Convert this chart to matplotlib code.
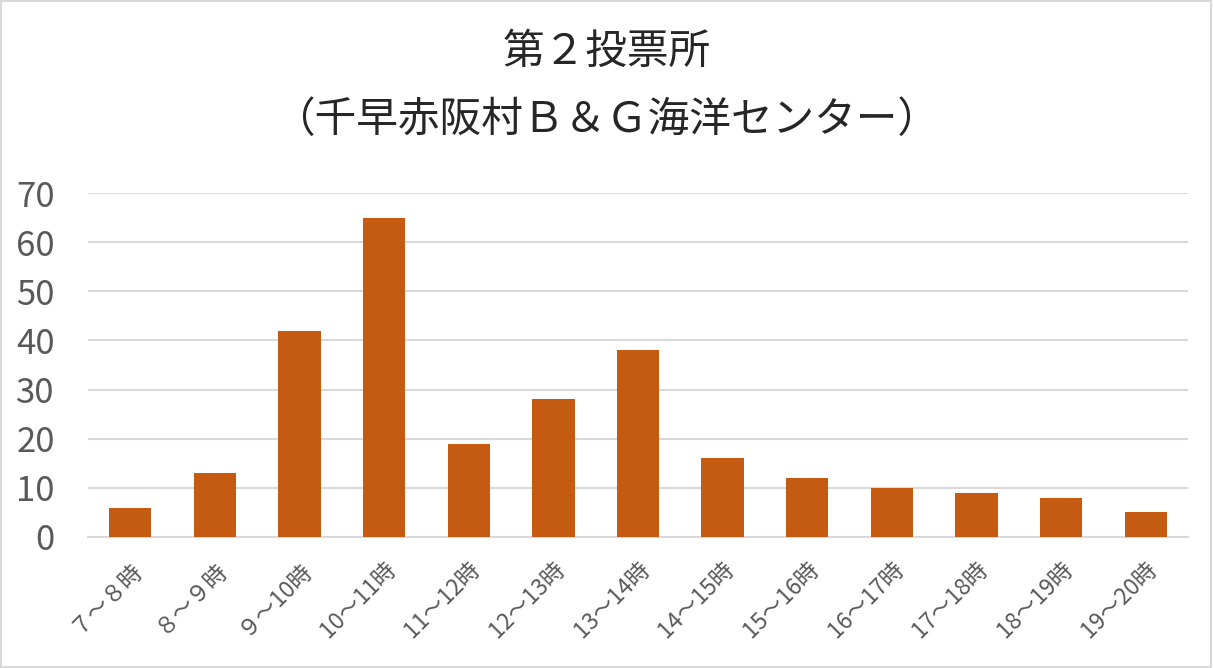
import matplotlib.pyplot as plt
from matplotlib.patches import Rectangle

plt.rcParams['font.family'] = ['Noto Sans CJK JP', 'DejaVu Sans']

# Hourly voter counts
hours = ['７～８時', '８～９時', '９～10時', '10～11時', '11～12時', '12～13時', '13～14時',
         '14～15時', '15～16時', '16～17時', '17～18時', '18～19時', '19～20時']
voters = [6, 13, 42, 65, 19, 28, 38, 16, 12, 10, 9, 8, 5]
yticks = [0, 10, 20, 30, 40, 50, 60, 70]

fig = plt.figure(figsize=(12.13, 6.68), dpi=100)
ax = fig.add_axes([88 / 1213, 1 - 537 / 668, 1100 / 1213, 344 / 668])

ax.bar(range(len(hours)), voters, width=0.5, color='#C55A11', zorder=3)
ax.set_xlim(-0.5, len(hours) - 0.5)
ax.set_ylim(0, 70)
ax.set_yticks(yticks)
ax.yaxis.grid(True, color='#D9D9D9', linewidth=1.5, zorder=0)
ax.tick_params(axis='y', length=0, labelsize=25, labelcolor='#595959', pad=24)
ax.tick_params(axis='x', length=0, labelsize=16.5, labelcolor='#595959')
ax.set_xticks(range(len(hours)))
ax.set_xticklabels(hours, rotation=45, ha='right', rotation_mode='anchor')
for lbl in ax.get_xticklabels():
    lbl.set_y(-0.045)
for s in ['top', 'right', 'left']:
    ax.spines[s].set_visible(False)
ax.spines['bottom'].set_color('#D9D9D9')
ax.spines['bottom'].set_linewidth(1.5)

fig.text(0.5, 1 - 52 / 668, '第２投票所', ha='center', va='center', fontsize=30, color='#262626')
fig.text(0.5, 1 - 121 / 668, '（千早赤阪村Ｂ＆Ｇ海洋センター）', ha='center', va='center',
         fontsize=30, color='#262626')

fig.add_artist(Rectangle((0.001, 0.002), 0.997, 0.996, transform=fig.transFigure,
                         fill=False, edgecolor='#D9D9D9', linewidth=1.5))

fig.savefig('out.png', dpi=100)
